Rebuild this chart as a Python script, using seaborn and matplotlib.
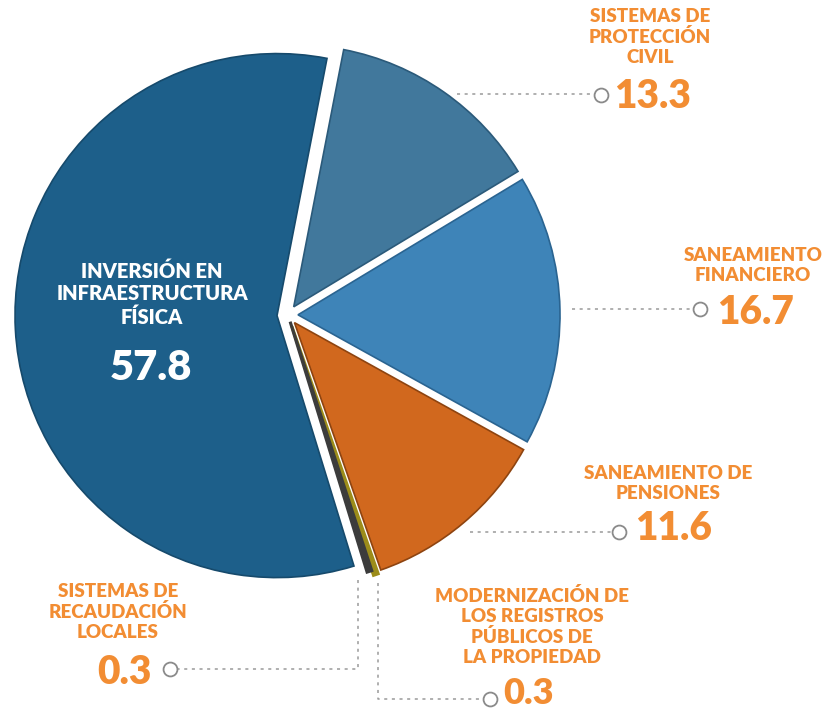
import matplotlib
matplotlib.use("Agg")
import matplotlib.pyplot as plt
import seaborn as sns

sns.set_theme(style="white")
plt.rcParams['font.family'] = ['Lato', 'DejaVu Sans']

# ---- data ----
categories = ["SISTEMAS DE\nPROTECCIÓN\nCIVIL", "SANEAMIENTO\nFINANCIERO",
              "SANEAMIENTO DE\nPENSIONES", "MODERNIZACIÓN DE\nLOS REGISTROS\nPÚBLICOS DE\nLA PROPIEDAD",
              "SISTEMAS DE\nRECAUDACIÓN\nLOCALES", "INVERSIÓN EN\nINFRAESTRUCTURA\nFÍSICA"]
values = [13.3, 16.7, 11.6, 0.3, 0.3, 57.8]
value_labels = ["13.3", "16.7", "11.6", "0.3", "0.3", "57.8"]

colors = ["#41789C", "#3E84B8", "#D1681E", "#9C8C1A", "#3C3C3C", "#1D5F8A"]
edges = ["#2B5A7A", "#2A6491", "#8E4410", "#9C8C1A", "#3C3C3C", "#164A6C"]
edge_w = [1.2, 1.2, 1.2, 2.2, 2.2, 1.2]

W, H = 825, 715
fig = plt.figure(figsize=(W / 100, H / 100), dpi=100)
ax = fig.add_axes([0, 0, 1, 1])

def Y(y):
    return H - y

cx, cy, R = 288, 315, 262
explode = [10, 10, 10, 12, 7, 11]
wedges, _ = ax.pie(values, colors=colors, startangle=79, counterclock=False,
                   explode=explode, center=(cx, Y(cy)), radius=R,
                   wedgeprops=dict(linewidth=1.2))
for w, ec, lw in zip(wedges, edges, edge_w):
    w.set_edgecolor(ec)
    w.set_linewidth(lw)

ax.set_xlim(0, W)
ax.set_ylim(0, H)
ax.set_aspect('equal')
ax.axis('off')

orange = "#F28D33"
lc = "#9A9A9A"

def label(x, y_top, text, num, nx, ny, ha_num="left", nsize=28):
    ax.text(x, Y(y_top), text, ha="center", va="top", fontsize=13.5,
            fontweight="heavy", color=orange, linespacing=1.2)
    ax.text(nx, Y(ny), num, ha=ha_num, va="center", fontsize=nsize,
            fontweight="heavy", color=orange)

def leader(points, circ):
    xs = [p[0] for p in points]
    ys = [Y(p[1]) for p in points]
    ax.plot(xs, ys, color=lc, lw=1.1, ls=(0, (2, 3)))
    ax.plot([circ[0]], [Y(circ[1])], marker="o", ms=10, mfc="white",
            mec="#8A8A8A", mew=1.3)

# Protección civil
label(650, 8, categories[0], value_labels[0], 614, 97)
leader([(457, 94), (595, 94)], (601, 95))
# Financiero
label(753, 247, categories[1], value_labels[1], 717, 312)
leader([(572, 309), (694, 309)], (700, 309))
# Pensiones
label(668, 465, categories[2], value_labels[2], 635, 528)
leader([(470, 532), (613, 532)], (619, 532))
# Registros
label(532, 587, categories[3], value_labels[3], 503, 694, nsize=26)
leader([(378, 583), (378, 699), (484, 699)], (490, 699))
# Recaudación
label(118, 583, categories[4], value_labels[4], 152, 672, ha_num="right")
leader([(358, 580), (358, 669), (176, 669)], (170, 669))

# Infraestructura (inside)
ax.text(152, Y(261), categories[5], ha="center", va="top", fontsize=14.5,
        fontweight="heavy", color="white", linespacing=1.25)
ax.text(151, Y(368), value_labels[5], ha="center", va="center", fontsize=30,
        fontweight="heavy", color="white")

fig.savefig("out.png", dpi=100)
